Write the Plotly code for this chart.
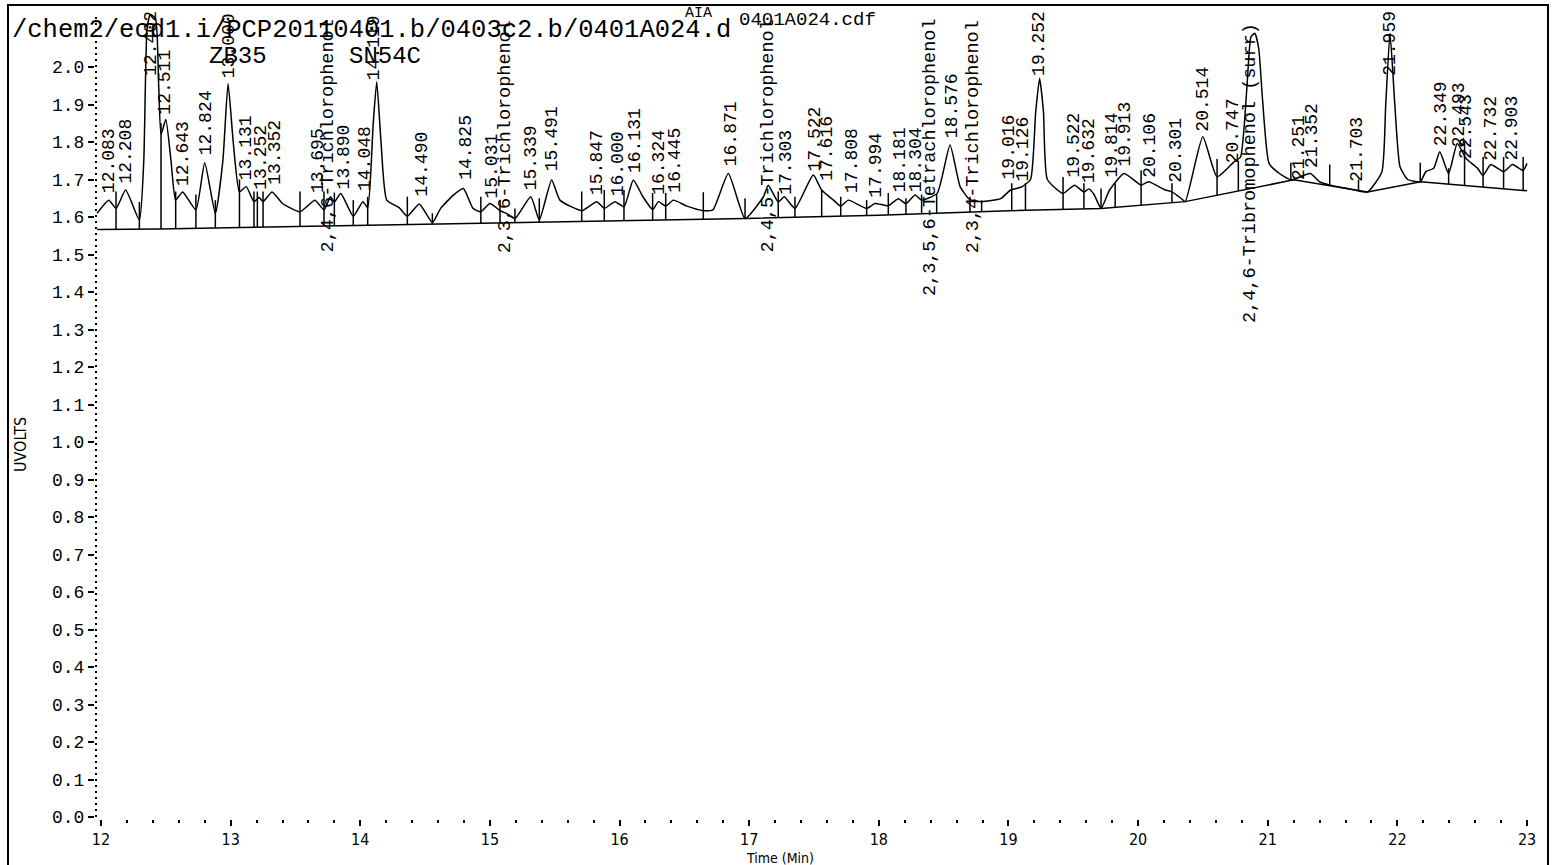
import numpy as np
import plotly.graph_objects as go

# ---------------- data ----------------
sig_t = [11.97, 12.06, 12.116, 12.19, 12.296, 12.33, 12.355, 12.38, 12.42, 12.445, 12.463, 12.50, 12.54, 12.576,
         12.63, 12.732, 12.80, 12.882, 12.94, 12.98, 13.02, 13.068, 13.12, 13.18, 13.22, 13.25, 13.32, 13.40,
         13.535, 13.65, 13.72, 13.77, 13.80, 13.85, 13.946, 14.02, 14.057, 14.10, 14.127, 14.16, 14.204, 14.30,
         14.363, 14.455, 14.556, 14.62, 14.72, 14.795, 14.87, 14.93, 15.00, 15.078, 15.13, 15.193, 15.315,
         15.381, 15.476, 15.54, 15.708, 15.824, 15.882, 15.965, 16.034, 16.106, 16.18, 16.255, 16.30, 16.356,
         16.415, 16.52, 16.646, 16.72, 16.839, 16.968, 17.11, 17.147, 17.224, 17.27, 17.353, 17.494, 17.559,
         17.65, 17.706, 17.765, 17.906, 17.97, 18.073, 18.15, 18.209, 18.28, 18.33, 18.45, 18.549, 18.627,
         18.70, 18.793, 18.94, 19.016, 19.10, 19.17, 19.21, 19.24, 19.27, 19.30, 19.42, 19.51, 19.582, 19.62,
         19.66, 19.714, 19.78, 19.892, 20.023, 20.08, 20.21, 20.261, 20.33, 20.363, 20.499, 20.609, 20.74,
         20.79, 20.84, 20.87, 20.90, 20.93, 20.96, 21.01, 21.09, 21.18, 21.328, 21.40, 21.48, 21.61, 21.67,
         21.77, 21.88, 21.91, 21.943, 21.98, 22.02, 22.08, 22.176, 22.22, 22.28, 22.327, 22.395, 22.462,
         22.53, 22.62, 22.66, 22.72, 22.82, 22.887, 22.97, 23.0]
sig_v = [1.610, 1.645, 1.623, 1.672, 1.592, 1.75, 2.10, 2.14, 2.13, 1.95, 1.82, 1.86, 1.75, 1.645,
         1.667, 1.619, 1.745, 1.609, 1.75, 1.956, 1.80, 1.667, 1.681, 1.641, 1.652, 1.641, 1.667, 1.636,
         1.614, 1.645, 1.619, 1.654, 1.640, 1.663, 1.602, 1.641, 1.625, 1.85, 1.961, 1.80, 1.645, 1.625,
         1.602, 1.635, 1.585, 1.623, 1.659, 1.676, 1.623, 1.614, 1.636, 1.617, 1.609, 1.596, 1.654,
         1.592, 1.699, 1.645, 1.617, 1.641, 1.623, 1.641, 1.627, 1.699, 1.654, 1.620, 1.641, 1.629,
         1.645, 1.629, 1.617, 1.619, 1.716, 1.596, 1.654, 1.685, 1.640, 1.654, 1.623, 1.712, 1.672,
         1.645, 1.629, 1.645, 1.623, 1.636, 1.630, 1.649, 1.636, 1.659, 1.645, 1.663, 1.792, 1.681,
         1.647, 1.641, 1.649, 1.672, 1.680, 1.70, 1.88, 1.97, 1.88, 1.70, 1.663, 1.685, 1.667, 1.675,
         1.660, 1.623, 1.672, 1.716, 1.685, 1.694, 1.672, 1.667, 1.650, 1.641, 1.814, 1.707, 1.747,
         1.76, 1.95, 2.08, 2.09, 2.05, 1.912, 1.743, 1.716, 1.699, 1.716, 1.694, 1.685, 1.676, 1.672,
         1.667, 1.72, 1.90, 2.09, 1.90, 1.734, 1.70, 1.694, 1.721, 1.73, 1.774, 1.716, 1.796,
         1.756, 1.729, 1.71, 1.74, 1.721, 1.74, 1.724, 1.743]

base_t = [11.97, 12.45, 13.4, 15.2, 16.97, 18.0, 19.0, 19.714, 20.363, 21.2, 21.77, 22.18, 23.0]
base_v = [1.567, 1.568, 1.574, 1.585, 1.596, 1.605, 1.617, 1.623, 1.641, 1.699, 1.667, 1.694, 1.670]

drop_t = [12.116, 12.296, 12.463, 12.576, 12.732, 12.882, 13.068, 13.18, 13.206, 13.25, 13.535, 13.72, 13.80,
          13.946, 14.057, 14.363, 14.556, 14.93, 15.078, 15.193, 15.381, 15.708, 15.882, 16.034, 16.255,
          16.356, 16.646, 16.968, 17.224, 17.353, 17.559, 17.706, 17.906, 18.073, 18.209, 18.33, 18.446,
          18.703, 18.793, 19.025, 19.131, 19.421, 19.582, 19.714, 19.823, 20.023, 20.261, 20.609, 20.773,
          21.178, 21.478, 21.70, 22.176, 22.395, 22.518, 22.661, 22.819, 22.97]
drop_top = [1.668, 1.64, 1.85, 1.668, 1.66, 1.645, 1.70, 1.668, 1.668, 1.668, 1.668, 1.668, 1.665,
            1.645, 1.654, 1.654, 1.61, 1.654, 1.645, 1.623, 1.65, 1.668, 1.672, 1.672, 1.664,
            1.664, 1.666, 1.65, 1.668, 1.654, 1.672, 1.654, 1.645, 1.664, 1.65, 1.66, 1.66,
            1.654, 1.645, 1.69, 1.69, 1.707, 1.69, 1.676, 1.69, 1.725, 1.69, 1.755, 1.75,
            1.745, 1.74, 1.70, 1.745, 1.73, 1.80, 1.76, 1.76, 1.76]

rt_labels = ["12.083", "12.208", "12.402", "12.511", "12.643", "12.824", "13.000", "13.131", "13.252",
             "13.352", "13.695", "13.890", "14.048", "14.119", "14.490", "14.825", "15.031", "15.339",
             "15.491", "15.847", "16.000", "16.131", "16.324", "16.445", "16.871", "17.303", "17.522",
             "17.616", "17.808", "17.994", "18.181", "18.304", "18.576", "19.016", "19.126", "19.252",
             "19.522", "19.632", "19.814", "19.913", "20.106", "20.301", "20.514", "20.747", "21.251",
             "21.352", "21.703", "21.959", "22.349", "22.493", "22.543", "22.732", "22.903"]
rt_label_base = [1.659, 1.685, 1.97, 1.867, 1.677, 1.76, 1.965, 1.693, 1.667,
                 1.68, 1.659, 1.667, 1.664, 1.96, 1.65, 1.693, 1.645, 1.667,
                 1.717, 1.654, 1.65, 1.712, 1.654, 1.659, 1.73, 1.654, 1.717,
                 1.69, 1.66, 1.645, 1.66, 1.66, 1.805, 1.695, 1.69, 1.97,
                 1.699, 1.685, 1.699, 1.73, 1.70, 1.685, 1.823, 1.739, 1.693,
                 1.725, 1.69, 1.97, 1.784, 1.78, 1.75, 1.744, 1.745]

compounds = ["2,4,6-Trichlorophenol", "2,3,6-Trichlorophenol", "2,4,5-Trichlorophenol",
             "2,3,5,6-Tetrachlorophenol", "2,3,4-Trichlorophenol", "2,4,6-Tribromophenol (surr)"]
compound_t = [13.751, 15.116, 17.145, 18.395, 18.726, 20.863]
compound_base = [1.499, 1.499, 1.499, 1.384, 1.499, 1.312]

std_labels = ["ZB35", "SN54C"]
std_t = [13.057, 14.19]
std_v = [2.027, 2.027]

x_ticks = list(range(12, 24))
y_ticks = [round(0.1 * i, 1) for i in range(21)]
y_ticktext = ["%.1f" % v for v in y_ticks]

title_text = "/chem2/ecd1.i/PCP20110401.b/0403c2.b/0401A024.d"

# ---------------- geometry ----------------
W, H = 1554, 865
ML, MR, MT, MB = 8, 6, 5, 0
PX_PER_MIN = 129.64
X12_PX = 101
PX_PER_UNIT = 375.0
Y0_PX = 817

x_lo = 12 + (ML - X12_PX) / PX_PER_MIN
x_hi = 12 + ((W - MR) - X12_PX) / PX_PER_MIN
y_hi = (Y0_PX - MT) / PX_PER_UNIT
y_lo = (Y0_PX - (H - MB)) / PX_PER_UNIT
plot_h = H - MT - MB
plot_w = W - ML - MR

mono = "Liberation Mono, Courier New, monospace"
narrow = "Liberation Sans Narrow, DejaVu Sans Condensed, Liberation Sans, sans-serif"

fig = go.Figure()

# chromatogram
fig.add_trace(go.Scatter(x=sig_t, y=sig_v, mode="lines",
                         line=dict(color="black", width=1.5, shape="spline", smoothing=0.5),
                         hoverinfo="skip", showlegend=False))
# baseline
fig.add_trace(go.Scatter(x=base_t, y=base_v, mode="lines", line=dict(color="black", width=1.5),
                         hoverinfo="skip", showlegend=False))
# drop lines
dx, dy = [], []
bottoms = np.interp(drop_t, base_t, base_v)
for t, b, top in zip(drop_t, bottoms, drop_top):
    dx += [t, t, None]
    dy += [b, top, None]
fig.add_trace(go.Scatter(x=dx, y=dy, mode="lines", line=dict(color="black", width=1.5),
                         hoverinfo="skip", showlegend=False))
# dotted y axis line
y_axis_t = 12 + (96 - X12_PX) / PX_PER_MIN
fig.add_trace(go.Scatter(x=[y_axis_t, y_axis_t], y=[0, 2.14], mode="lines",
                         line=dict(color="black", width=2, dash="2px,4px"),
                         hoverinfo="skip", showlegend=False))

ann = []
for txt, b in zip(rt_labels, rt_label_base):
    ann.append(dict(x=float(txt), y=b, xref="x", yref="y", text=txt, showarrow=False,
                    textangle=-90, xanchor="center", yanchor="bottom", xshift=-2,
                    font=dict(family=mono, size=18, color="black")))
for txt, t, b in zip(compounds, compound_t, compound_base):
    ann.append(dict(x=t, y=b, xref="x", yref="y", text=txt, showarrow=False,
                    textangle=-90, xanchor="center", yanchor="bottom",
                    font=dict(family=mono, size=18.5, color="black")))
for txt, t, v in zip(std_labels, std_t, std_v):
    ann.append(dict(x=t, y=v, xref="x", yref="y", text=txt, showarrow=False,
                    xanchor="center", yanchor="middle",
                    font=dict(family=mono, size=24, color="black")))

def px_x(p):
    return (p - ML) / plot_w

def px_y(p):
    return (H - MB - p) / plot_h

ann.append(dict(x=px_x(10), y=px_y(30), xref="paper", yref="paper", text=title_text, showarrow=False,
                xanchor="left", yanchor="middle", font=dict(family=mono, size=25.5, color="black")))
ann.append(dict(x=px_x(698), y=px_y(14), xref="paper", yref="paper", text="AIA", showarrow=False,
                xanchor="center", yanchor="middle", font=dict(family=mono, size=15, color="black")))
ann.append(dict(x=px_x(808), y=px_y(20), xref="paper", yref="paper", text="0401A024.cdf", showarrow=False,
                xanchor="center", yanchor="middle", font=dict(family=mono, size=19, color="black")))
ann.append(dict(x=px_x(20), y=px_y(445), xref="paper", yref="paper", text="UVOLTS", showarrow=False,
                textangle=-90, xanchor="center", yanchor="middle",
                font=dict(family=narrow, size=16, color="black")))
ann.append(dict(x=px_x(780), y=px_y(858), xref="paper", yref="paper", text="Time (Min)", showarrow=False,
                xanchor="center", yanchor="middle", font=dict(family=narrow, size=14, color="black")))

minor_vals = [round(12 + 0.2 * i, 1) for i in range(1, 55) if (i % 5) != 0]

fig.update_layout(
    width=W, height=H,
    margin=dict(l=ML, r=MR, t=MT, b=MB, pad=0),
    paper_bgcolor="white", plot_bgcolor="white",
    showlegend=False,
    annotations=ann,
    shapes=[dict(type="rect", xref="paper", yref="paper", x0=0, x1=1, y0=-0.02, y1=1,
                 line=dict(color="black", width=2), fillcolor="rgba(0,0,0,0)")],
    xaxis=dict(range=[x_lo, x_hi], domain=[0, 1], anchor="free", position=(H - MB - 819) / plot_h,
               tickmode="array", tickvals=x_ticks, ticktext=[str(v) for v in x_ticks],
               ticks="outside", ticklen=6, tickwidth=2, tickcolor="black",
               showline=False, showgrid=False, zeroline=False,
               tickfont=dict(family=narrow, size=16, color="black"),
               minor=dict(tickmode="array", tickvals=minor_vals, ticks="outside", ticklen=3,
                          tickwidth=2, tickcolor="black", showgrid=False)),
    yaxis=dict(range=[y_lo, y_hi], domain=[0, 1], anchor="free", position=(94 - ML) / plot_w,
               tickmode="array", tickvals=y_ticks, ticktext=y_ticktext,
               ticks="outside", ticklen=6, tickwidth=2, tickcolor="black",
               showline=False, showgrid=False, zeroline=False,
               tickfont=dict(family=mono, size=18, color="black")),
)

fig.write_html("out.html", config={"displayModeBar": False},
               post_script="document.body.style.margin='0';document.body.style.overflow='hidden';")
